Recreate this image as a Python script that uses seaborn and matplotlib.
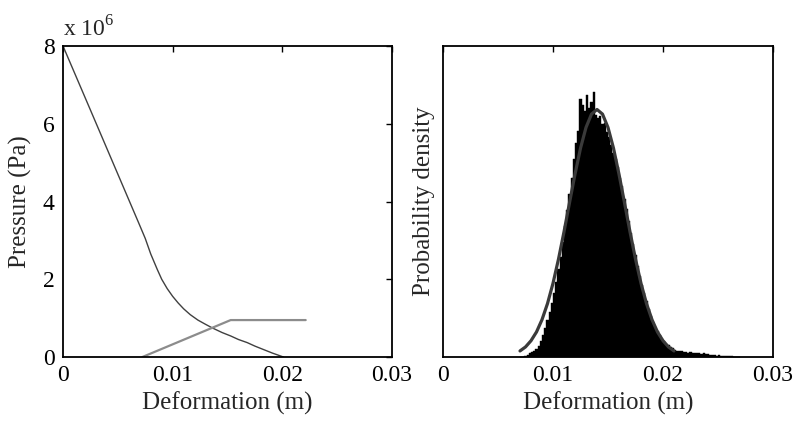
import numpy as np
import pandas as pd
import matplotlib
matplotlib.use("Agg")
import matplotlib.pyplot as plt
import seaborn as sns

# left panel: pressure vs deformation (pressure in units of 1e6 Pa)
load_x = [0.0, 0.0024, 0.0039, 0.0054, 0.0069, 0.0075, 0.0080, 0.0086, 0.0090,
          0.0095, 0.0100, 0.0105, 0.0110, 0.0116, 0.0123, 0.0130, 0.0136,
          0.0145, 0.0153, 0.0160, 0.0168, 0.0175, 0.0183, 0.0191, 0.0199, 0.0201]
load_p = [8.00, 6.42, 5.43, 4.44, 3.45, 3.05, 2.65, 2.25, 2.00,
          1.76, 1.56, 1.39, 1.24, 1.09, 0.95, 0.84, 0.75,
          0.63, 0.54, 0.45, 0.37, 0.28, 0.19, 0.10, 0.02, 0.0]

resist_x = [0.00724, 0.01529, 0.02213]
resist_p = [0.0, 0.95, 0.95]

# right panel: histogram of deformation (bin width 0.0002 from 0.007)
hist_start = 0.0070
hist_width = 0.0002
hist_heights = [
    0, 0, 0.8, 1.5, 2.5, 3, 4, 5, 7, 10,
    14, 18, 23, 28, 34, 40, 47, 55, 63, 72,
    82, 92, 102, 112, 124, 134, 142, 162, 158, 154,
    164, 156, 160, 166, 152,
    150, 151, 146, 147, 141, 138, 133, 128, 124, 119,
    112, 107, 99, 93, 85, 78, 71, 64, 57, 51,
    45, 40, 35, 30, 26, 22, 19, 16, 13.5, 11,
    10, 8, 7.5, 6, 5.5, 4.5, 4, 3.5, 3.8, 3,
    3.2, 2.6, 3, 2.4, 2.8, 2.2, 2.4, 2, 2.2, 1.6,
    1.8, 1.2, 1, 1.1, 0.8, 1.2, 0.6, 0.5, 0.6, 0.4,
    0.4, 0.5, 0.3, 0.3, 0.2,
]

# fitted density curve
fit_x = [0.0070, 0.0075, 0.0080, 0.0085, 0.0090, 0.0095, 0.0100, 0.0105,
         0.0110, 0.0115, 0.0120, 0.0125, 0.0130, 0.0135, 0.0140, 0.0145,
         0.0150, 0.0155, 0.0160, 0.0165, 0.0170, 0.0175, 0.0180, 0.0185,
         0.0190, 0.0195, 0.0200, 0.0205, 0.0210]
fit_y = [3.8, 6.3, 10.2, 15.7, 23.4, 33.5, 46.2, 61.4,
         78.5, 96.7, 114.6, 130.9, 143.9, 152.3, 155.2, 152.3,
         143.9, 130.9, 114.6, 96.7, 78.5, 61.4, 46.2, 33.5,
         23.4, 15.7, 10.2, 6.3, 3.8]

x_ticks = [0, 0.01, 0.02, 0.03]
x_labels = ["0", "0.01", "0.02", "0.03"]
p_ticks = [0, 2, 4, 6, 8]

sns.set_style("white")
plt.rcParams["font.family"] = ["Liberation Serif", "DejaVu Serif"]
plt.rcParams["mathtext.fontset"] = "custom"
plt.rcParams["mathtext.rm"] = "Liberation Serif"

fig = plt.figure(figsize=(7.96, 4.22), dpi=100)
ax1 = fig.add_axes([63 / 796, 65 / 422, 329 / 796, 311 / 422])
ax2 = fig.add_axes([443 / 796, 65 / 422, 330 / 796, 311 / 422])

load_df = pd.DataFrame({"x": load_x, "p": load_p})
resist_df = pd.DataFrame({"x": resist_x, "p": resist_p})
sns.lineplot(data=load_df, x="x", y="p", ax=ax1, color="#404040", linewidth=1.0, sort=False)
sns.lineplot(data=resist_df, x="x", y="p", ax=ax1, color="#8c8c8c", linewidth=1.6, sort=False)
ax1.set_xlim(0, 0.03)
ax1.set_ylim(0, 8)
ax1.set_yticks(p_ticks)
ax1.set_yticklabels([str(t) for t in p_ticks])
ax1.set_ylabel("Pressure (Pa)", fontsize=18, labelpad=8)
ax1.text(0.0, 1.015, r"x 10$^{\mathrm{6}}$", transform=ax1.transAxes,
         fontsize=17, ha="left", va="bottom")

edges = (hist_start + hist_width * np.arange(len(hist_heights) + 1)).tolist()
centers = [e + hist_width / 2 for e in edges[:-1]]
hist_df = pd.DataFrame({"x": centers, "h": hist_heights})
sns.histplot(data=hist_df, x="x", weights="h", bins=edges, element="step",
             fill=True, color="black", alpha=1, linewidth=0.3, edgecolor="black", ax=ax2)
fit_df = pd.DataFrame({"x": fit_x, "y": fit_y})
sns.lineplot(data=fit_df, x="x", y="y", ax=ax2, color="#3a3a3a", linewidth=2.3)
ax2.set_xlim(0, 0.03)
ax2.set_ylim(0, 195)
ax2.set_yticks([])
ax2.set_ylabel("Probability density", fontsize=18, labelpad=6)

for ax in (ax1, ax2):
    ax.set_xticks(x_ticks)
    ax.set_xticklabels(x_labels)
    ax.set_xlabel("Deformation (m)", fontsize=18, labelpad=4)
    ax.tick_params(direction="in", length=4, width=1, labelsize=17,
                   top=True, right=(ax is ax1), pad=6, colors="black")
    for s in ax.spines.values():
        s.set_visible(True)
        s.set_color("black")
        s.set_linewidth(1.3)

fig.savefig("out.png", dpi=100, facecolor="white")
